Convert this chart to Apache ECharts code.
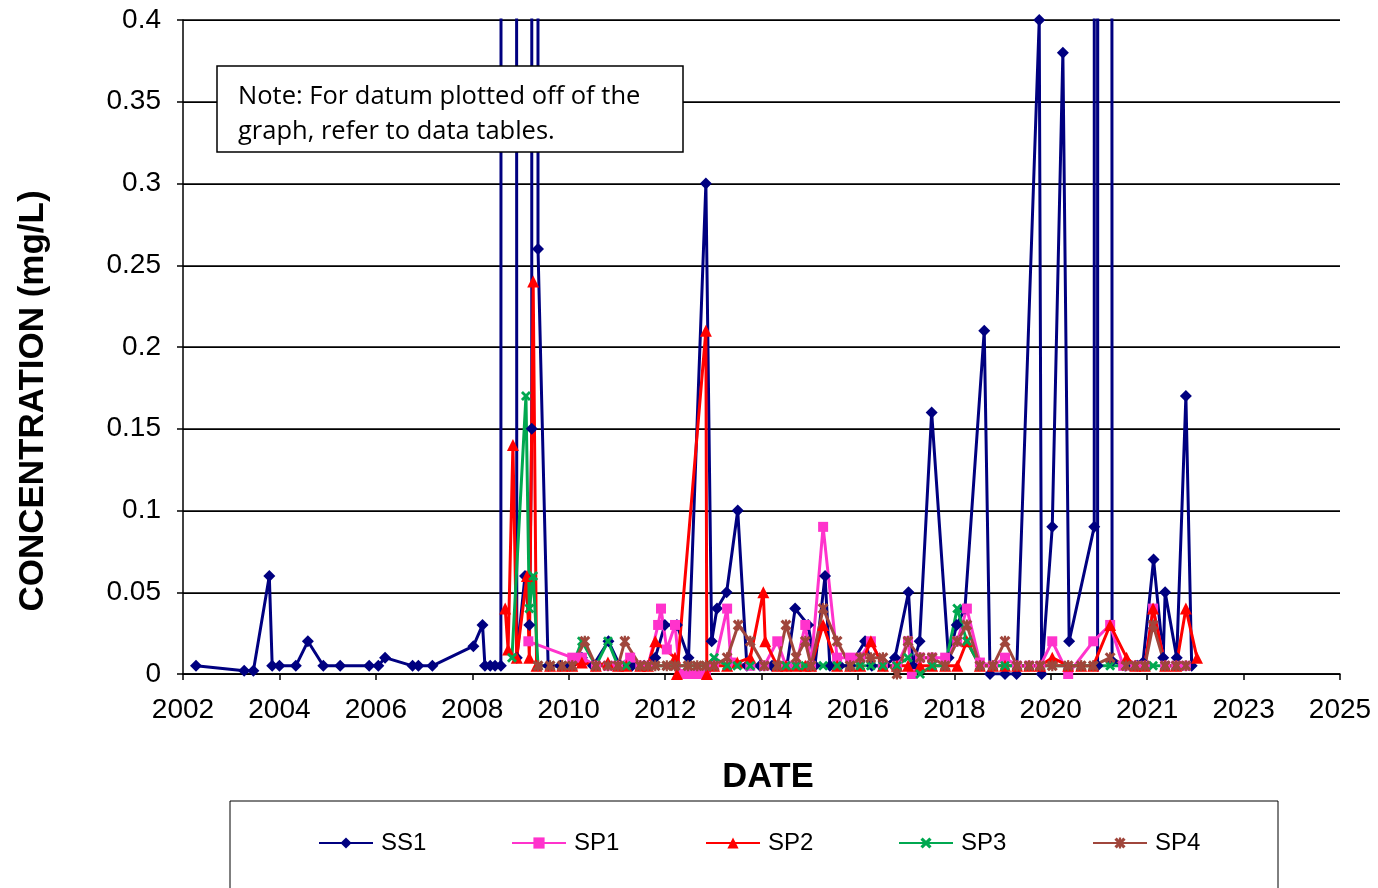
<!DOCTYPE html>
<html>
<head>
<meta charset="utf-8">
<script src="https://cdn.jsdelivr.net/npm/echarts@6/dist/echarts.min.js"></script>
<style>
  html, body { margin: 0; padding: 0; background: #fff; }
  #chart { width: 1378px; height: 888px; }
</style>
</head>
<body>
<div id="chart"></div>
<script>
// sample dates are decimal years, concentrations in mg/L
// values far above 0.4 are the off-graph datums (see note)
const seriesNames = ['SS1', 'SP1', 'SP2', 'SP3', 'SP4'];

const ss1 = [
  [2002.28,0.005],[2003.28,0.002],[2003.47,0.002],[2003.80,0.06],[2003.86,0.005],[2004.01,0.005],
  [2004.35,0.005],[2004.60,0.02],[2004.92,0.005],[2005.27,0.005],[2005.87,0.005],[2006.06,0.005],
  [2006.20,0.01],[2006.77,0.005],[2006.89,0.005],[2007.18,0.005],[2008.03,0.017],[2008.22,0.03],
  [2008.27,0.005],[2008.38,0.005],[2008.48,0.005],[2008.60,0.005],[2008.75,20],[2008.93,0.01],
  [2009.10,0.06],[2009.19,0.03],[2009.24,0.15],[2009.31,20],[2009.37,0.26],[2009.58,0.005],
  [2009.83,0.005],[2010.03,0.005],[2010.28,0.01],[2010.51,0.005],[2010.83,0.02],[2011.07,0.005],
  [2011.32,0.005],[2011.57,0.005],[2011.80,0.01],[2012.00,0.03],[2012.25,0.03],[2012.49,0.01],
  [2012.85,0.3],[2012.97,0.02],[2013.08,0.04],[2013.28,0.05],[2013.51,0.1],[2013.70,0.005],
  [2013.97,0.005],[2014.22,0.005],[2014.53,0.005],[2014.70,0.04],[2014.97,0.03],[2015.11,0.005],
  [2015.32,0.06],[2015.42,0.005],[2015.63,0.005],[2015.84,0.005],[2016.15,0.02],[2016.29,0.005],
  [2016.56,0.005],[2016.77,0.01],[2017.05,0.05],[2017.14,0.005],[2017.28,0.02],[2017.53,0.16],
  [2017.88,0.01],[2018.05,0.03],[2018.22,0.04],[2018.62,0.21],[2018.74,0],[2019.05,0],
  [2019.29,0],[2019.76,0.4],[2019.81,0],[2020.03,0.09],[2020.25,0.38],[2020.38,0.02],
  [2020.90,0.09],[2020.94,20],[2020.97,0.005],[2021.11,20],[2021.27,0.008],[2021.54,0.005],
  [2021.79,0.005],[2021.91,0.007],[2022.13,0.07],[2022.33,0.01],[2022.37,0.05],[2022.61,0.01],
  [2022.80,0.17],[2022.92,0.005]
];

const sp1 = [
  [2009.17,0.02],[2010.08,0.01],[2010.28,0.01],[2010.57,0.005],[2010.82,0.005],[2011.03,0.005],
  [2011.28,0.01],[2011.49,0.005],[2011.65,0.005],[2011.86,0.03],[2011.92,0.04],[2012.04,0.015],
  [2012.21,0.03],[2012.31,0],[2012.48,0],[2012.67,0],[2012.85,0],[2013.02,0.005],
  [2013.29,0.04],[2013.37,0.007],[2013.77,0.005],[2014.06,0.005],[2014.33,0.02],[2014.51,0.005],
  [2014.72,0.005],[2014.91,0.03],[2015.03,0.005],[2015.28,0.09],[2015.57,0.01],[2015.84,0.01],
  [2016.05,0.01],[2016.27,0.02],[2016.52,0.005],[2016.81,0.005],[2017.04,0.02],[2017.12,0],
  [2017.29,0.01],[2017.54,0.01],[2017.81,0.01],[2018.06,0.02],[2018.26,0.04],[2018.53,0.007],
  [2018.80,0.005],[2019.05,0.01],[2019.30,0.005],[2019.55,0.005],[2019.78,0.005],[2020.03,0.02],
  [2020.36,0],[2020.88,0.02],[2021.23,0.03],[2021.50,0.005],[2021.75,0.005],[2021.95,0.005],
  [2022.12,0.04],[2022.37,0.005],[2022.60,0.005],[2022.80,0.005]
];

const sp2 = [
  [2008.69,0.04],[2008.75,0.015],[2008.85,0.14],[2008.93,0.01],[2009.14,0.06],[2009.19,0.01],
  [2009.27,0.24],[2009.34,0.005],[2009.62,0.005],[2009.87,0.005],[2010.08,0.005],[2010.28,0.007],
  [2010.57,0.005],[2010.82,0.007],[2011.03,0.005],[2011.20,0.005],[2011.49,0.005],[2011.65,0.005],
  [2011.80,0.02],[2012.21,0.01],[2012.25,0],[2012.85,0.21],[2012.87,0],[2013.02,0.005],
  [2013.29,0.005],[2013.50,0.007],[2013.77,0.01],[2014.04,0.05],[2014.08,0.02],[2014.33,0.005],
  [2014.51,0.005],[2014.72,0.005],[2014.91,0.005],[2015.03,0.005],[2015.28,0.03],[2015.57,0.005],
  [2015.84,0.005],[2016.05,0.005],[2016.27,0.02],[2016.52,0.005],[2016.81,0.005],[2017.04,0.005],
  [2017.29,0.005],[2017.54,0.005],[2017.81,0.005],[2018.06,0.005],[2018.26,0.02],[2018.53,0.005],
  [2018.80,0.005],[2019.05,0.005],[2019.30,0.005],[2019.55,0.005],[2019.78,0.005],[2020.03,0.01],
  [2020.36,0.005],[2020.63,0.005],[2020.88,0.005],[2021.23,0.03],[2021.57,0.01],[2021.75,0.005],
  [2021.95,0.005],[2022.12,0.04],[2022.37,0.005],[2022.60,0.005],[2022.80,0.04],[2023.03,0.01]
];

const sp3 = [
  [2008.83,0.01],[2009.12,0.17],[2009.19,0.04],[2009.27,0.06],[2009.37,0.005],[2009.62,0.005],
  [2009.87,0.005],[2010.08,0.005],[2010.28,0.02],[2010.57,0.005],[2010.82,0.02],[2011.03,0.005],
  [2011.20,0.005],[2011.49,0.005],[2011.65,0.005],[2011.80,0.005],[2012.04,0.005],[2012.21,0.005],
  [2012.48,0.005],[2012.67,0.005],[2012.85,0.005],[2013.02,0.01],[2013.29,0.005],[2013.50,0.005],
  [2013.77,0.005],[2014.06,0.005],[2014.33,0.005],[2014.51,0.005],[2014.72,0.005],[2014.91,0.005],
  [2015.03,0.005],[2015.28,0.005],[2015.57,0.005],[2015.84,0.005],[2016.05,0.005],[2016.27,0.005],
  [2016.52,0.005],[2016.81,0.005],[2017.04,0.01],[2017.29,0],[2017.54,0.005],[2017.81,0.005],
  [2018.06,0.04],[2018.26,0.02],[2018.53,0.005],[2018.80,0.005],[2019.05,0.005],[2019.30,0.005],
  [2019.55,0.005],[2019.78,0.005],[2020.03,0.005],[2020.36,0.005],[2020.63,0.005],[2020.88,0.005],
  [2021.23,0.005],[2021.56,0.005],[2021.75,0.005],[2021.95,0.005],[2022.12,0.005],[2022.37,0.005],
  [2022.60,0.005],[2022.80,0.005]
];

const sp4 = [
  [2009.37,0.005],[2009.62,0.005],[2009.87,0.005],[2010.08,0.005],[2010.34,0.02],[2010.57,0.005],
  [2010.82,0.005],[2011.03,0.005],[2011.17,0.02],[2011.49,0.005],[2011.65,0.005],[2011.80,0.005],
  [2012.04,0.005],[2012.21,0.005],[2012.48,0.005],[2012.67,0.005],[2012.85,0.005],[2013.02,0.005],
  [2013.29,0.01],[2013.52,0.03],[2013.77,0.02],[2014.06,0.005],[2014.33,0.005],[2014.51,0.03],
  [2014.72,0.01],[2014.91,0.02],[2015.03,0.005],[2015.28,0.04],[2015.57,0.02],[2015.84,0.005],
  [2016.05,0.01],[2016.27,0.01],[2016.52,0.01],[2016.81,0],[2017.04,0.02],[2017.29,0.01],
  [2017.54,0.01],[2017.81,0.005],[2018.06,0.02],[2018.26,0.03],[2018.53,0.005],[2018.80,0.005],
  [2019.05,0.02],[2019.30,0.005],[2019.55,0.005],[2019.78,0.005],[2020.03,0.005],[2020.36,0.005],
  [2020.63,0.005],[2020.88,0.005],[2021.23,0.01],[2021.56,0.005],[2021.75,0.005],[2021.95,0.005],
  [2022.12,0.03],[2022.37,0.005],[2022.60,0.005],[2022.80,0.005]
];

// excel date axis: starts 5 Jan 2002, major unit 730 days
const START = Date.UTC(2002, 0, 5);
const DAY = 86400000;
const toDays = yr => (yr - 2002.011) * 365.25;

const font = '"Liberation Sans", Arial, sans-serif';
const colors = ['#000080', '#FF33CC', '#FF0000', '#00A850', '#A0463C'];
const xMark = 'path://M0,2 L2,0 L5,3 L8,0 L10,2 L7,5 L10,8 L8,10 L5,7 L2,10 L0,8 L3,5 Z';
const starMark = 'path://M0,2 L2,0 L5,3 L8,0 L10,2 L7,5 L10,8 L8,10 L5,7 L2,10 L0,8 L3,5 Z M4,0 L6,0 L6,10 L4,10 Z';
const symbols = ['diamond', 'rect', 'triangle', xMark, starMark];
const symbolSizes = [12, 10, 12, 10, 11];
const allData = [ss1, sp1, sp2, sp3, sp4];
const legendLeft = [318, 511, 705, 898, 1092];

const chart = echarts.init(document.getElementById('chart'));

chart.setOption({
  animation: false,
  backgroundColor: '#fff',
  grid: { left: 183, top: 20, right: 38, bottom: 214, containLabel: false },
  xAxis: {
    type: 'value',
    min: 0,
    max: 8760,
    interval: 730,
    axisLine: { show: true, lineStyle: { color: '#000', width: 1.5 } },
    axisTick: { show: true, length: 6, lineStyle: { color: '#000', width: 1.5 } },
    splitLine: { show: false },
    axisLabel: {
      color: '#000', fontSize: 28, fontFamily: font, margin: 22,
      formatter: v => String(new Date(START + v * DAY).getUTCFullYear())
    }
  },
  yAxis: {
    type: 'value',
    min: 0,
    max: 0.4,
    interval: 0.05,
    axisLine: { show: true, lineStyle: { color: '#000', width: 1.5 } },
    axisTick: { show: true, length: 6, lineStyle: { color: '#000', width: 1.5 } },
    splitLine: { show: true, lineStyle: { color: '#000', width: 1.75 } },
    axisLabel: { color: '#000', fontSize: 28, fontFamily: font, margin: 22 }
  },
  legend: seriesNames.map((n, i) => ({
    data: [n],
    left: legendLeft[i],
    top: 831,
    padding: 0,
    itemWidth: 54,
    itemHeight: 14,
    itemGap: 0,
    textStyle: { color: '#000', fontSize: 24, fontFamily: font, padding: [0, 0, 0, 3] }
  })),
  graphic: [
    {
      type: 'rect', z: 100,
      shape: { x: 217, y: 66, width: 466, height: 86 },
      style: { fill: '#fff', stroke: '#000', lineWidth: 1.5 }
    },
    {
      type: 'text', z: 101, x: 238, y: 79,
      style: {
        text: 'Note: For datum plotted off of the\ngraph, refer to data tables.',
        font: '25.5px "Open Sans", sans-serif', fill: '#000', lineHeight: 35
      }
    },
    {
      type: 'rect', z: -1,
      shape: { x: 230, y: 801, width: 1048, height: 120 },
      style: { fill: '#fff', stroke: '#000', lineWidth: 1 }
    },
    {
      type: 'text', x: 33, y: 401, rotation: Math.PI / 2,
      style: {
        text: 'CONCENTRATION (mg/L)', font: 'bold 35px ' + font, fill: '#000',
        textAlign: 'center', textVerticalAlign: 'middle'
      }
    },
    {
      type: 'text', x: 768, y: 777,
      style: {
        text: 'DATE', font: 'bold 34.5px ' + font, fill: '#000',
        textAlign: 'center', textVerticalAlign: 'middle'
      }
    }
  ],
  series: seriesNames.map((n, i) => ({
    name: n,
    type: 'line',
    clip: true,
    data: allData[i].map(p => [toDays(p[0]), p[1]]),
    symbol: symbols[i],
    symbolSize: symbolSizes[i],
    showAllSymbol: true,
    lineStyle: { color: colors[i], width: 3 },
    itemStyle: { color: colors[i], borderWidth: 0 },
    emphasis: { disabled: true }
  }))
});
</script>
</body>
</html>
